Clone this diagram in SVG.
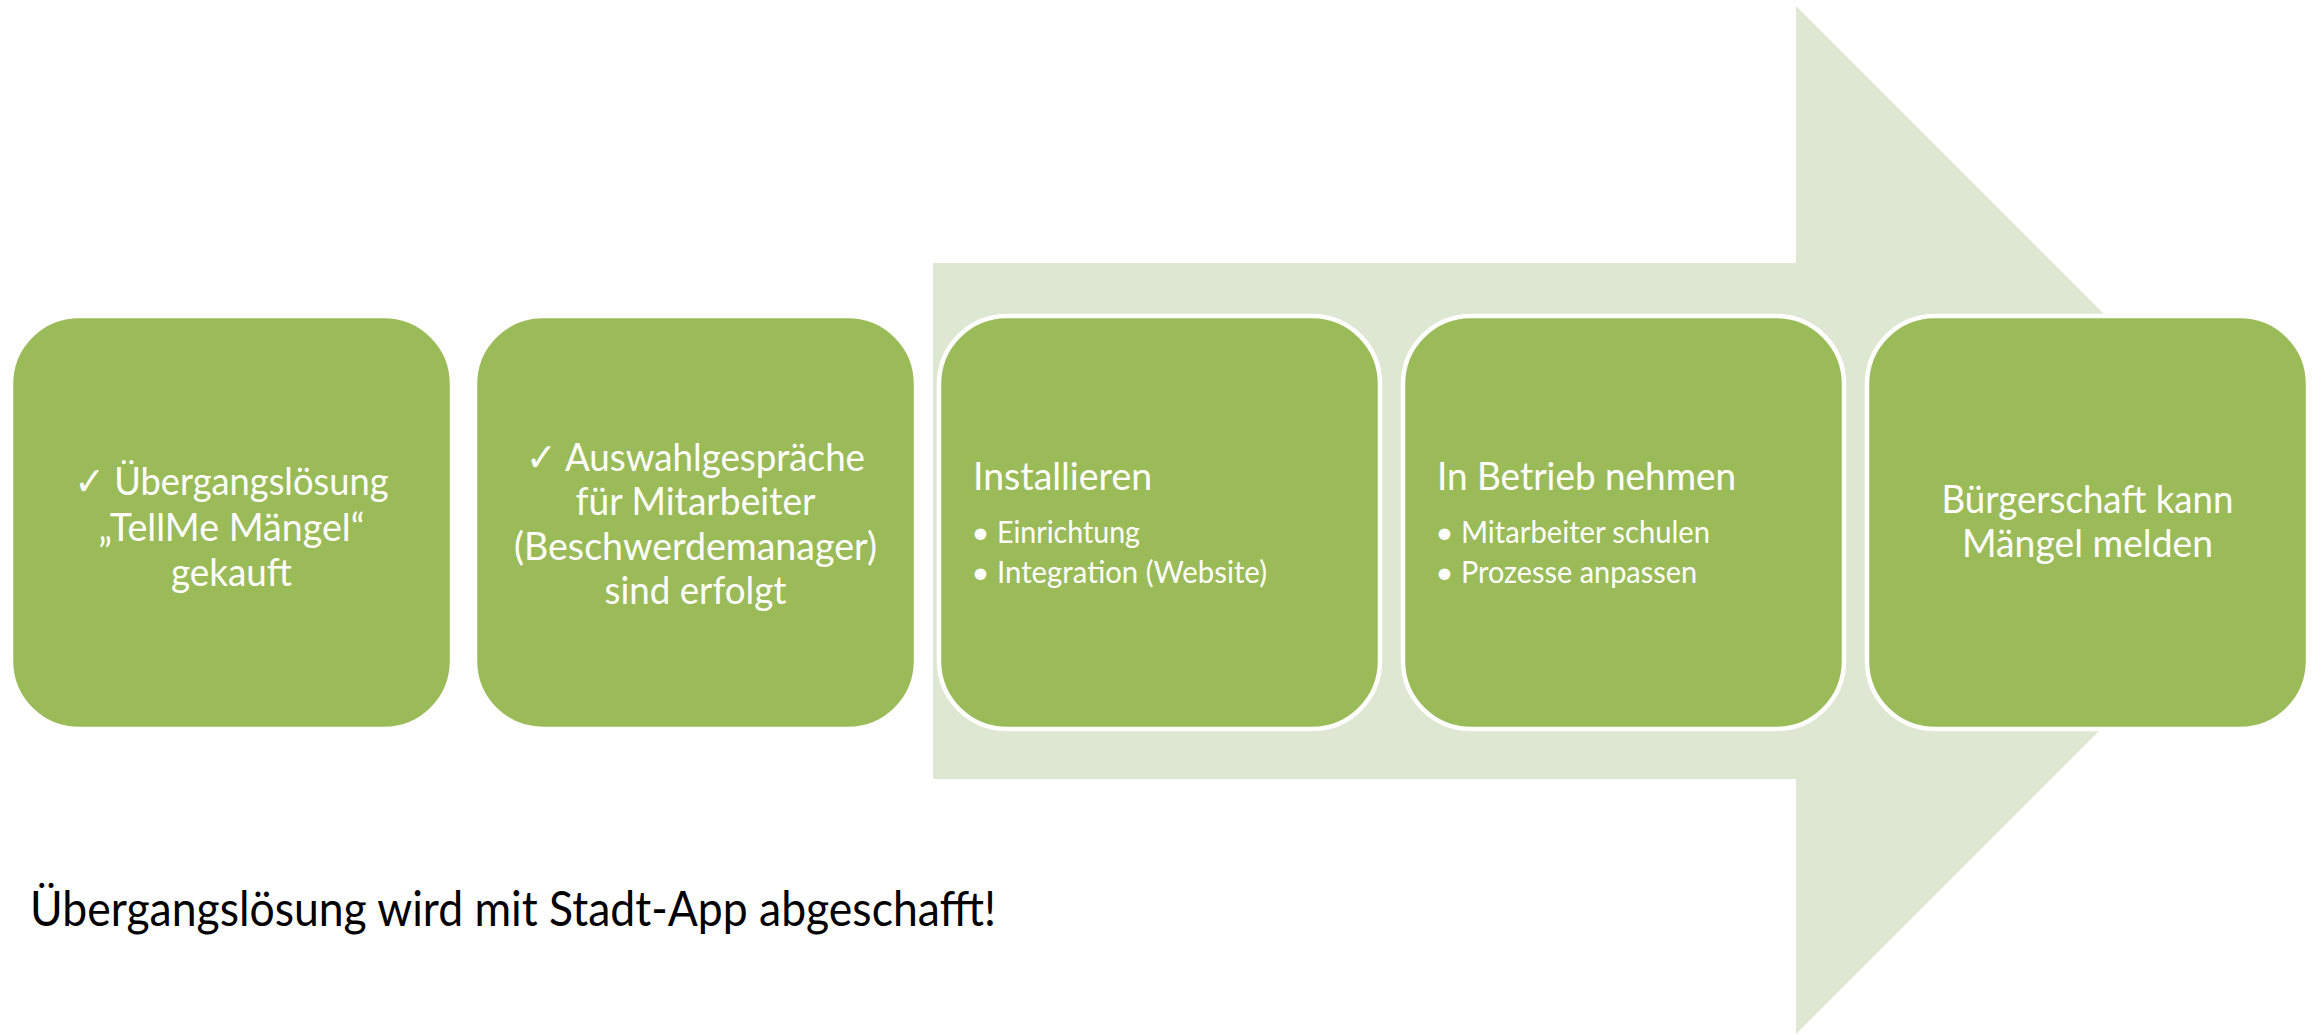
<svg xmlns="http://www.w3.org/2000/svg" width="2323" height="1035" viewBox="0 0 2323 1035">
<style>
.box{fill:#9BBB59;stroke:#FFFFFF;stroke-width:4.5}
.t{font-family:Lato,"Liberation Sans","DejaVu Sans",sans-serif;fill:#FFFFFF;font-size:39.5px}
.c{text-anchor:middle}
.b{font-family:Lato,"Liberation Sans","DejaVu Sans",sans-serif;fill:#FFFFFF;font-size:31px}
.note{font-family:Lato,"Liberation Sans",sans-serif;fill:#000000;font-size:47.7px}
</style>
<rect width="2323" height="1035" fill="#FFFFFF"/>
<g id="connectors">
<polygon id="arrow" points="933,263 1796,263 1796,6 2310,520 1796,1034 1796,779 933,779" fill="#DEE7D2"/>
</g>
<g id="node1">
<rect class="box" x="11" y="316" width="441" height="413" rx="68" ry="68"/>
<text class="t c" x="231.5" y="495" textLength="314" lengthAdjust="spacingAndGlyphs">✓ Übergangslösung</text>
<text class="t c" x="231.5" y="541" textLength="266" lengthAdjust="spacingAndGlyphs">„TellMe Mängel“</text>
<text class="t c" x="231.5" y="586" textLength="121" lengthAdjust="spacingAndGlyphs">gekauft</text>
</g>
<g id="node2">
<rect class="box" x="475" y="316" width="441" height="413" rx="68" ry="68"/>
<text class="t c" x="695.5" y="471" textLength="339" lengthAdjust="spacingAndGlyphs">✓ Auswahlgespräche</text>
<text class="t c" x="695.5" y="515" textLength="240" lengthAdjust="spacingAndGlyphs">für Mitarbeiter</text>
<text class="t c" x="695.5" y="560" textLength="363" lengthAdjust="spacingAndGlyphs">(Beschwerdemanager)</text>
<text class="t c" x="695.5" y="604" textLength="182" lengthAdjust="spacingAndGlyphs">sind erfolgt</text>
</g>
<g id="node3">
<rect class="box" x="939" y="316" width="441" height="413" rx="68" ry="68"/>
<text class="t" x="973" y="490" textLength="179" lengthAdjust="spacingAndGlyphs">Installieren</text>
<text class="b c" x="980.5" y="543">•</text>
<text class="b" x="997" y="543" textLength="143" lengthAdjust="spacingAndGlyphs">Einrichtung</text>
<text class="b c" x="980.5" y="583">•</text>
<text class="b" x="997" y="583" textLength="270" lengthAdjust="spacingAndGlyphs">Integration (Website)</text>
</g>
<g id="node4">
<rect class="box" x="1403" y="316" width="441" height="413" rx="68" ry="68"/>
<text class="t" x="1437" y="490" textLength="299" lengthAdjust="spacingAndGlyphs">In Betrieb nehmen</text>
<text class="b c" x="1444.5" y="543">•</text>
<text class="b" x="1461" y="543" textLength="249" lengthAdjust="spacingAndGlyphs">Mitarbeiter schulen</text>
<text class="b c" x="1444.5" y="583">•</text>
<text class="b" x="1461" y="583" textLength="236" lengthAdjust="spacingAndGlyphs">Prozesse anpassen</text>
</g>
<g id="node5">
<rect class="box" x="1867" y="316" width="441" height="413" rx="68" ry="68"/>
<text class="t c" x="2087.5" y="513" textLength="292" lengthAdjust="spacingAndGlyphs">Bürgerschaft kann</text>
<text class="t c" x="2087.5" y="557" textLength="251" lengthAdjust="spacingAndGlyphs">Mängel melden</text>
</g>
<g id="note">
<text class="note" x="30" y="926" textLength="966" lengthAdjust="spacingAndGlyphs">Übergangslösung wird mit Stadt-App abgeschafft!</text>
</g>
</svg>
